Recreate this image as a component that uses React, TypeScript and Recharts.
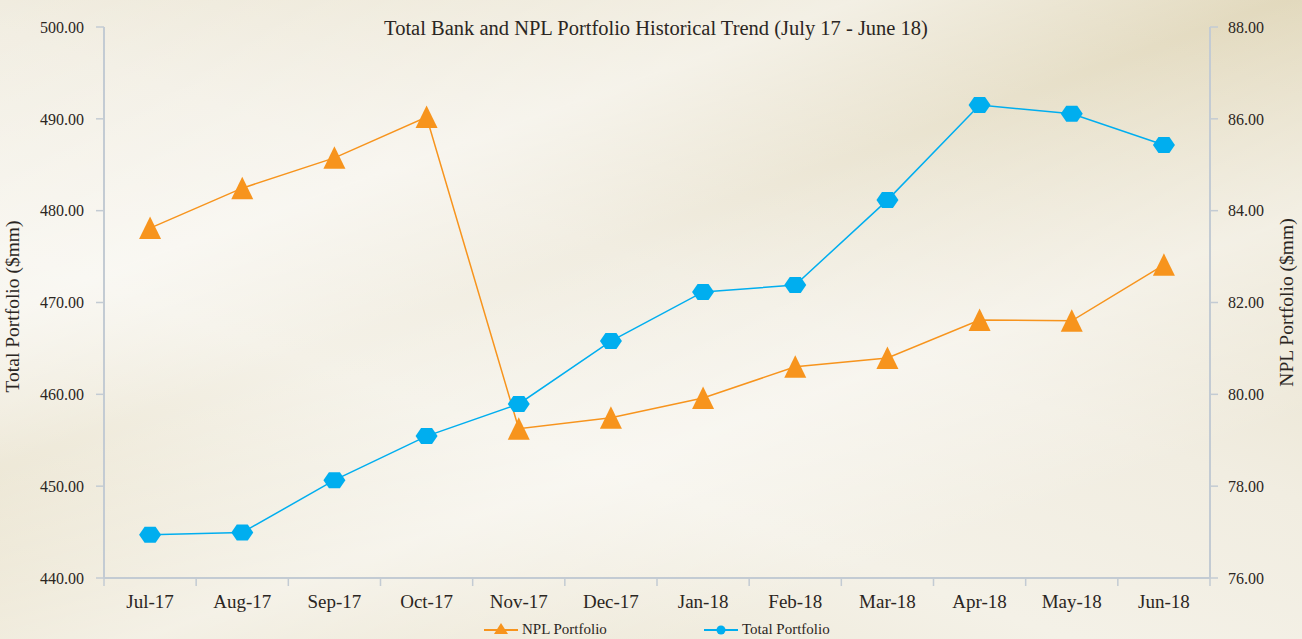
import { LineChart, Line, XAxis, YAxis, Legend, Label } from "recharts";

const months = ["Jul-17", "Aug-17", "Sep-17", "Oct-17", "Nov-17", "Dec-17", "Jan-18", "Feb-18", "Mar-18", "Apr-18", "May-18", "Jun-18"];
const totalPortfolio = [444.7, 444.95, 450.65, 455.45, 458.95, 465.8, 471.15, 471.9, 481.15, 491.5, 490.55, 487.15];
const nplPortfolio = [83.62, 84.49, 85.15, 86.04, 79.25, 79.49, 79.92, 80.6, 80.79, 81.62, 81.6, 82.82];
const leftTicks = [440, 450, 460, 470, 480, 490, 500];
const rightTicks = [76, 78, 80, 82, 84, 86, 88];

const data = months.map((month, i) => ({
  month,
  total: totalPortfolio[i],
  npl: nplPortfolio[i],
}));

const FONT = '"Liberation Serif", "DejaVu Serif", serif';
const ORANGE = "#F7941D";
const BLUE = "#00AEEF";
const AXIS = "#c3cbd3";
const TEXT = "#2b2622";
const PLOT_LEFT = 104;
const PLOT_RIGHT = 1210;
const BAND = (PLOT_RIGHT - PLOT_LEFT) / months.length;

const Hexagon = (props: any) => {
  const { cx, cy } = props;
  if (cx == null || cy == null) return null;
  const pts = [
    [cx - 11, cy],
    [cx - 5.5, cy - 8],
    [cx + 5.5, cy - 8],
    [cx + 11, cy],
    [cx + 5.5, cy + 8],
    [cx - 5.5, cy + 8],
  ]
    .map((p) => p.join(","))
    .join(" ");
  return <polygon points={pts} fill={BLUE} />;
};

const Triangle = (props: any) => {
  const { cx, cy } = props;
  if (cx == null || cy == null) return null;
  const pts = [
    [cx, cy - 11.5],
    [cx + 11, cy + 11],
    [cx - 11, cy + 11],
  ]
    .map((p) => p.join(","))
    .join(" ");
  return <polygon points={pts} fill={ORANGE} />;
};

const MonthTick = (props: any) => {
  const { x, y, payload, index } = props;
  return (
    <g>
      <line x1={x - BAND / 2} x2={x - BAND / 2} y1={y} y2={y + 8} stroke={AXIS} strokeWidth={1.5} />
      {index === months.length - 1 && (
        <line x1={x + BAND / 2} x2={x + BAND / 2} y1={y} y2={y + 8} stroke={AXIS} strokeWidth={1.5} />
      )}
      <text x={x} y={y + 30} textAnchor="middle" fill={TEXT} fontSize={19} fontFamily={FONT}>
        {payload.value}
      </text>
    </g>
  );
};

const LegendContent = () => (
  <div style={{ position: "relative", height: 18, fontFamily: FONT, fontSize: 15, lineHeight: "18px", color: TEXT }}>
    <div style={{ position: "absolute", left: 484, top: 0, display: "flex", alignItems: "center" }}>
      <svg width={34} height={16}>
        <line x1={0} x2={34} y1={9} y2={9} stroke={ORANGE} strokeWidth={2} />
        <polygon points="17,2 24,13 10,13" fill={ORANGE} />
      </svg>
      <span style={{ marginLeft: 4 }}>NPL Portfolio</span>
    </div>
    <div style={{ position: "absolute", left: 704, top: 0, display: "flex", alignItems: "center" }}>
      <svg width={34} height={16}>
        <line x1={0} x2={34} y1={9} y2={9} stroke={BLUE} strokeWidth={2} />
        <circle cx={17} cy={9} r={4.5} fill={BLUE} />
      </svg>
      <span style={{ marginLeft: 4 }}>Total Portfolio</span>
    </div>
  </div>
);

export default function App() {
  return (
    <div
      style={{
        position: "absolute",
        left: 0,
        top: 0,
        width: 1302,
        height: 639,
        overflow: "hidden",
        fontFamily: FONT,
        background:
          "linear-gradient(160deg, rgba(255,255,255,0) 0%, rgba(255,255,255,0.5) 28%, rgba(255,255,255,0) 42%, rgba(255,255,255,0.45) 62%, rgba(255,255,255,0) 80%), linear-gradient(20deg, #e9e2cc 0%, #f4f1e7 35%, #f1ede1 55%, #e2d9bd 100%)",
      }}
    >
      <LineChart
        width={1302}
        height={639}
        data={data}
        margin={{ top: 27, right: 0, bottom: 21, left: 0 }}
        style={{ fontFamily: FONT }}
      >
        <text x={656} y={35} textAnchor="middle" fill={TEXT} fontSize={20.5} fontFamily={FONT}>
          Total Bank and NPL Portfolio Historical Trend (July 17 - June 18)
        </text>
        <XAxis
          dataKey="month"
          scale="band"
          height={40}
          axisLine={{ stroke: AXIS, strokeWidth: 2 }}
          tickLine={false}
          tickSize={0}
          tickMargin={0}
          interval={0}
          tick={<MonthTick />}
        />
        <YAxis
          yAxisId="left"
          width={104}
          domain={[440, 500]}
          ticks={leftTicks}
          tickFormatter={(v: number) => v.toFixed(2)}
          axisLine={{ stroke: AXIS, strokeWidth: 2 }}
          tickLine={{ stroke: AXIS, strokeWidth: 1.5 }}
          tickSize={8}
          tickMargin={12}
          tick={{ fill: TEXT, fontSize: 16, fontFamily: FONT }}
        >
          <Label
            value="Total Portfolio ($mm)"
            angle={-90}
            position="insideLeft"
            offset={12}
            dy={4}
            style={{ textAnchor: "middle", fill: TEXT, fontSize: 19.5, fontFamily: FONT }}
          />
        </YAxis>
        <YAxis
          yAxisId="right"
          orientation="right"
          width={92}
          domain={[76, 88]}
          ticks={rightTicks}
          tickFormatter={(v: number) => v.toFixed(2)}
          axisLine={{ stroke: AXIS, strokeWidth: 2 }}
          tickLine={{ stroke: AXIS, strokeWidth: 1.5 }}
          tickSize={8}
          tickMargin={10}
          tick={{ fill: TEXT, fontSize: 16, fontFamily: FONT }}
        >
          <Label
            value="NPL Portfolio ($mm)"
            angle={-90}
            position="insideRight"
            offset={16}
            style={{ textAnchor: "middle", fill: TEXT, fontSize: 19.5, fontFamily: FONT }}
          />
        </YAxis>
        <Line
          yAxisId="right"
          dataKey="npl"
          name="NPL Portfolio"
          stroke={ORANGE}
          strokeWidth={1.5}
          dot={<Triangle />}
          activeDot={false}
          isAnimationActive={false}
        />
        <Line
          yAxisId="left"
          dataKey="total"
          name="Total Portfolio"
          stroke={BLUE}
          strokeWidth={1.5}
          dot={<Hexagon />}
          activeDot={false}
          isAnimationActive={false}
        />
        <Legend
          verticalAlign="middle"
          align="center"
          layout="horizontal"
          content={<LegendContent />}
          wrapperStyle={{ position: "absolute", top: 620, left: 0, width: 1302, height: 18 }}
        />
      </LineChart>
    </div>
  );
}
